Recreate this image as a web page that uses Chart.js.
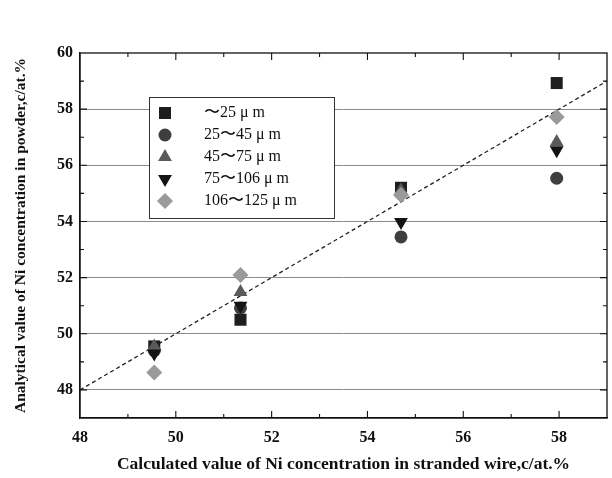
<!DOCTYPE html>
<html>
<head>
<meta charset="utf-8">
<script src="https://cdn.jsdelivr.net/npm/chart.js@4.4.0/dist/chart.umd.min.js"></script>
<style>
  body { margin: 0; background: #fff; }
</style>
</head>
<body>
<canvas id="myChart" width="612" height="478"></canvas>
<script>
const sizeLabels = ["〜25 μ m", "25〜45 μ m", "45〜75 μ m", "75〜106 μ m", "106〜125 μ m"];
const wireNi = [49.55, 51.35, 54.7, 57.95];
const ni25 = [49.55, 50.5, 55.2, 58.93];
const ni25to45 = [49.4, 50.92, 53.45, 55.54];
const ni45to75 = [49.55, 51.49, 55.1, 56.83];
const ni75to106 = [49.3, 51.0, 53.98, 56.54];
const ni106to125 = [48.62, 52.09, 54.94, 57.72];
const xTicks = [48, 50, 52, 54, 56, 58];
const yTicks = [48, 50, 52, 54, 56, 58, 60];
const refLine = [48, 59];

const serif = "'Liberation Serif', 'DejaVu Serif', serif";

const styles = [
  { style: "rect", color: "#1e1e1e", radius: 8.5, rotation: 0, order: 5 },
  { style: "circle", color: "#3e3e3e", radius: 6.5, rotation: 0, order: 4 },
  { style: "triangle", color: "#5a5a5a", radius: 8, rotation: 0, order: 3 },
  { style: "triangle", color: "#141414", radius: 8, rotation: 180, order: 2 },
  { style: "rectRot", color: "#9a9a9a", radius: 8, rotation: 0, order: 1 },
];

const series = [ni25, ni25to45, ni45to75, ni75to106, ni106to125];

const datasets = series.map((vals, i) => ({
  type: "scatter",
  label: sizeLabels[i],
  data: vals.map((v, j) => ({ x: wireNi[j], y: v })),
  pointStyle: styles[i].style,
  pointRotation: styles[i].rotation,
  pointRadius: styles[i].radius,
  pointHoverRadius: styles[i].radius,
  backgroundColor: styles[i].color,
  borderColor: styles[i].color,
  borderWidth: 0,
  order: styles[i].order,
}));

datasets.push({
  type: "line",
  label: "ref",
  data: refLine.map((v) => ({ x: v, y: v })),
  borderColor: "#222",
  borderWidth: 1.3,
  borderDash: [4, 3],
  pointRadius: 0,
  fill: false,
  order: 10,
});

function drawMarker(ctx, s, x, y) {
  if (Chart.helpers && Chart.helpers.drawPoint) {
    ctx.fillStyle = s.color;
    ctx.strokeStyle = s.color;
    ctx.lineWidth = 0;
    Chart.helpers.drawPoint(ctx, { pointStyle: s.style, rotation: s.rotation, radius: s.radius, borderWidth: 0 }, x, y);
  }
}

const frame = {
  id: "frame",
  afterDatasetsDraw(chart) {
    const { ctx, chartArea: a, scales } = chart;
    ctx.save();
    ctx.strokeStyle = "#111";
    ctx.lineWidth = 1.3;
    ctx.strokeRect(a.left, a.top, a.right - a.left, a.bottom - a.top);
    ctx.lineWidth = 1.1;
    for (let v = 49; v <= 58; v++) {
      const px = scales.x.getPixelForValue(v);
      const len = v % 2 === 0 ? 7 : 4;
      ctx.beginPath();
      ctx.moveTo(px, a.bottom); ctx.lineTo(px, a.bottom - len);
      ctx.moveTo(px, a.top); ctx.lineTo(px, a.top + len);
      ctx.stroke();
    }
    for (let v = 48; v <= 59; v++) {
      const py = scales.y.getPixelForValue(v);
      const len = v % 2 === 0 ? 7 : 4;
      ctx.beginPath();
      ctx.moveTo(a.left, py); ctx.lineTo(a.left + len, py);
      ctx.moveTo(a.right, py); ctx.lineTo(a.right - len, py);
      ctx.stroke();
    }
    ctx.restore();
  },
  afterDraw(chart) {
    const ctx = chart.ctx;
    ctx.save();
    ctx.fillStyle = "#fff";
    ctx.fillRect(149, 97, 185, 121);
    ctx.strokeStyle = "#333";
    ctx.lineWidth = 1;
    ctx.strokeRect(149.5, 97.5, 185, 121);
    ctx.font = "16px " + serif;
    ctx.textBaseline = "middle";
    sizeLabels.forEach((lab, i) => {
      const y = 113 + i * 22;
      drawMarker(ctx, styles[i], 165, y);
      ctx.fillStyle = "#111";
      ctx.fillText(lab, 204, y);
    });
    ctx.restore();
  },
};

const config = {
  data: { datasets: datasets },
  options: {
    responsive: false,
    devicePixelRatio: 1,
    animation: false,
    layout: { autoPadding: false, padding: { top: 53, right: 5, left: 0, bottom: 0 } },
    plugins: { legend: { display: false }, tooltip: { enabled: false } },
    scales: {
      x: {
        type: "linear",
        min: 48,
        max: 59,
        afterBuildTicks: (s) => { s.ticks = xTicks.map((v) => ({ value: v })); },
        afterFit: (s) => { s.height = 60; },
        grid: { display: false, drawTicks: false },
        border: { color: "#111", width: 1.3 },
        ticks: { color: "#111", font: { family: serif, size: 16, weight: "bold" }, padding: 10 },
        title: {
          display: true,
          text: "Calculated value of Ni concentration in stranded wire,c/at.%",
          color: "#111",
          font: { family: serif, size: 17.5, weight: "bold" },
          padding: { top: 3, bottom: 3 },
        },
      },
      y: {
        type: "linear",
        min: 47,
        max: 60,
        afterBuildTicks: (s) => { s.ticks = yTicks.map((v) => ({ value: v })); },
        afterFit: (s) => { s.width = 80; },
        grid: {
          drawTicks: false,
          color: (c) => (c.tick && c.tick.value < 60 ? "#8a8a8a" : "rgba(0,0,0,0)"),
          lineWidth: 1,
        },
        border: { color: "#111", width: 1.3 },
        ticks: { color: "#111", font: { family: serif, size: 16, weight: "bold" }, padding: 7 },
        title: {
          display: true,
          text: "Analytical value of Ni concentration in powder,c/at.%",
          color: "#111",
          font: { family: serif, size: 15.5, weight: "bold" },
          padding: { top: 12, bottom: 12 },
        },
      },
    },
  },
  plugins: [frame],
};

const chart1 = new Chart(document.getElementById("myChart"), config);
</script>
</body>
</html>
